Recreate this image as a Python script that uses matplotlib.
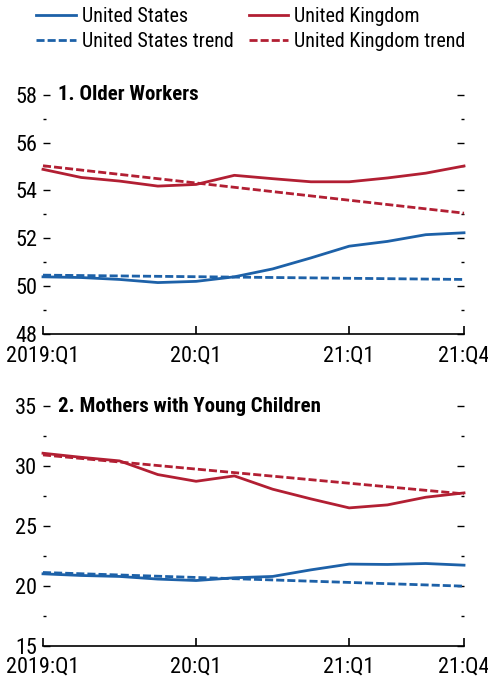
import matplotlib
matplotlib.use("Agg")
import matplotlib.pyplot as plt
from matplotlib.lines import Line2D
from matplotlib.ticker import MultipleLocator, FixedLocator
from matplotlib import font_manager

weights = {}
for f in font_manager.fontManager.ttflist:
    w = f.weight if isinstance(f.weight, int) else {'bold': 700, 'normal': 400}.get(f.weight, 400)
    weights.setdefault(f.name, set()).add(w)
preferred = ['Arial Narrow', 'Liberation Sans Narrow', 'Roboto Condensed', 'Archivo Narrow',
             'PT Sans Narrow', 'Fira Sans Condensed', 'IBM Plex Sans Condensed',
             'Encode Sans Condensed', 'Barlow Semi Condensed', 'Asap Condensed',
             'Pragati Narrow', 'Open Sans Condensed']
chosen = next((f for f in preferred if f in weights and max(weights[f]) >= 600
               and min(weights[f]) <= 500), None)
if chosen is None:
    chosen = next((f for f in preferred if f in weights), 'DejaVu Sans')
plt.rcParams['font.family'] = [chosen, 'DejaVu Sans']

quarters = ["2019:Q1", "19:Q2", "19:Q3", "19:Q4", "20:Q1", "20:Q2", "20:Q3", "20:Q4",
            "21:Q1", "21:Q2", "21:Q3", "21:Q4"]
tick_labels = {0: "2019:Q1", 4: "20:Q1", 8: "21:Q1", 11: "21:Q4"}

# Panel 1: Older Workers
older_us = [50.39, 50.36, 50.28, 50.15, 50.20, 50.39, 50.72, 51.18, 51.67, 51.87, 52.15, 52.23]
older_uk = [54.88, 54.54, 54.39, 54.18, 54.25, 54.63, 54.49, 54.36, 54.36, 54.52, 54.72, 55.02]
older_us_trend = [50.46, 50.28]   # first and last quarter
older_uk_trend = [55.03, 53.05]

# Panel 2: Mothers with Young Children
mothers_us = [21.00, 20.86, 20.78, 20.56, 20.44, 20.67, 20.78, 21.33, 21.81, 21.78, 21.86, 21.72]
mothers_uk = [31.06, 30.72, 30.42, 29.28, 28.72, 29.17, 28.06, 27.25, 26.50, 26.75, 27.39, 27.75]
mothers_us_trend = [21.11, 19.97]
mothers_uk_trend = [30.92, 27.67]

BLUE = "#1d61a8"
RED = "#b21f33"

fig = plt.figure(figsize=(4.89, 6.81), dpi=100)

panels = [
    dict(rect=[0.0879, 0.5095, 0.861, 0.3515], title="1. Older Workers",
         us=older_us, uk=older_uk, ust=older_us_trend, ukt=older_uk_trend,
         ylim=(48, 58), major=2, minor=1),
    dict(rect=[0.0879, 0.0518, 0.861, 0.352], title="2. Mothers with Young Children",
         us=mothers_us, uk=mothers_uk, ust=mothers_us_trend, ukt=mothers_uk_trend,
         ylim=(15, 35), major=5, minor=2.5),
]

x = list(range(len(quarters)))
xt = [0, len(quarters) - 1]
lw = 2.0
dash = (0, (2.9, 1.1))
for p in panels:
    ax = fig.add_axes(p["rect"])
    ax.plot(x, p["us"], color=BLUE, lw=lw, solid_joinstyle='round')
    ax.plot(x, p["uk"], color=RED, lw=lw, solid_joinstyle='round')
    ax.plot(xt, p["ust"], color=BLUE, lw=lw, ls=dash)
    ax.plot(xt, p["ukt"], color=RED, lw=lw, ls=dash)
    ax.set_xlim(0, len(quarters) - 1)
    ax.set_ylim(*p["ylim"])
    for s in ["left", "right", "top"]:
        ax.spines[s].set_visible(False)
    ax.spines["bottom"].set_linewidth(1.2)
    ax.xaxis.set_major_locator(FixedLocator(list(tick_labels.keys())))
    ax.set_xticklabels(list(tick_labels.values()))
    ax.yaxis.set_major_locator(MultipleLocator(p["major"]))
    ax.yaxis.set_minor_locator(MultipleLocator(p["minor"]))
    ax.tick_params(axis='x', direction='in', length=6, width=1.2, labelsize=16, pad=8)
    ax.tick_params(axis='y', which='major', direction='in', length=5, width=1.0,
                   labelsize=16, left=True, right=True, pad=4)
    ax.tick_params(axis='y', which='minor', direction='in', length=2, width=1.0,
                   left=True, right=True)
    ax.text(0.035, p["ylim"][1], p["title"], fontsize=15, fontweight='bold',
            va='center', ha='left', transform=ax.get_yaxis_transform())
    for ln in ax.lines:
        ln.set_clip_on(False)

handles = [
    Line2D([], [], color=BLUE, lw=lw),
    Line2D([], [], color=BLUE, lw=lw, ls=dash),
    Line2D([], [], color=RED, lw=lw),
    Line2D([], [], color=RED, lw=lw, ls=dash),
]
labels = ["United States", "United States trend", "United Kingdom", "United Kingdom trend"]
fig.legend(handles, labels, ncol=2, loc='upper left', bbox_to_anchor=(0.058, 1.002),
           borderaxespad=0, frameon=False, fontsize=14.5, handlelength=1.95,
           handletextpad=0.3, columnspacing=0.75, labelspacing=0.3)

fig.savefig("out.png", dpi=100)
